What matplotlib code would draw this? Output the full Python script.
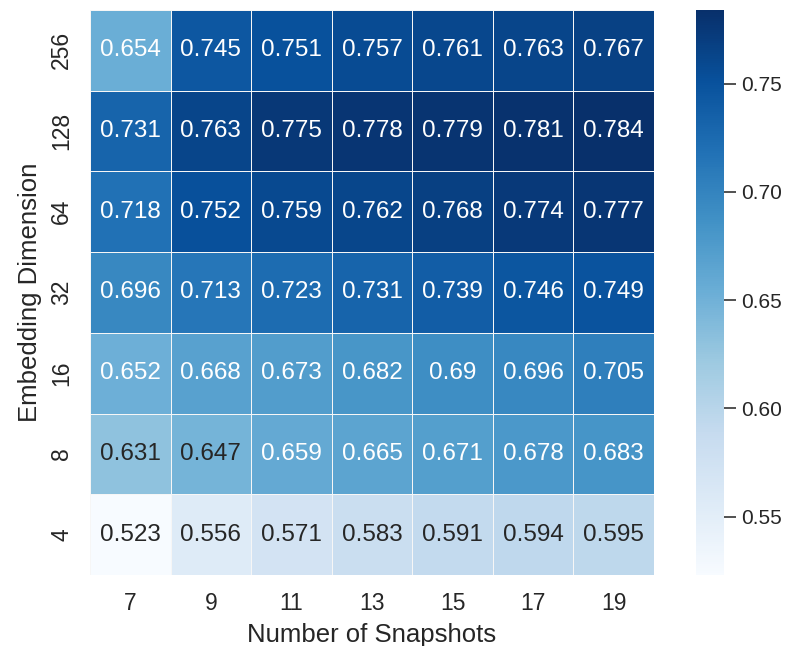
import numpy as np
import pandas as pd
import seaborn as sns
import matplotlib
matplotlib.use('Agg')
import matplotlib.pyplot as plt

# 数据
snapshots = [7, 9, 11, 13, 15, 17, 19]
dims = [256, 128, 64, 32, 16, 8, 4]
scores = [
    [0.654, 0.745, 0.751, 0.757, 0.761, 0.763, 0.767],
    [0.731, 0.763, 0.775, 0.778, 0.779, 0.781, 0.784],
    [0.718, 0.752, 0.759, 0.762, 0.768, 0.774, 0.777],
    [0.696, 0.713, 0.723, 0.731, 0.739, 0.746, 0.749],
    [0.652, 0.668, 0.673, 0.682, 0.690, 0.696, 0.705],
    [0.631, 0.647, 0.659, 0.665, 0.671, 0.678, 0.683],
    [0.523, 0.556, 0.571, 0.583, 0.591, 0.594, 0.595],
]
cbar_ticks = [0.55, 0.60, 0.65, 0.70, 0.75]
df = pd.DataFrame(scores, index=dims, columns=snapshots)

sns.set_theme(style='white')
plt.rcParams['font.family'] = ['Liberation Sans', 'DejaVu Sans']

fig = plt.figure(figsize=(7.87, 6.46), dpi=100)
ax = fig.add_axes([90 / 787, 1 - 575 / 646, 564 / 787, 565 / 646])
cax = fig.add_axes([696 / 787, 1 - 575 / 646, 28 / 787, 565 / 646])

sns.heatmap(df, ax=ax, cbar_ax=cax, cmap='Blues', annot=True, fmt='g',
            annot_kws={'fontsize': 17.5}, linewidths=0.7, linecolor='#f6f6f6')

ax.set_xlabel('Number of Snapshots', fontsize=18.5, labelpad=6)
ax.set_ylabel('Embedding Dimension', fontsize=18.5, labelpad=6)
ax.tick_params(axis='both', length=0, labelsize=16.5, pad=12)
ax.set_yticklabels(dims, rotation=90, va='center')
cax.tick_params(length=8.5, width=1.1, color='#222222', labelsize=15, pad=4)
cax.yaxis.set_ticks(cbar_ticks)
cax.set_yticklabels(['%.2f' % t for t in cbar_ticks])
for s in cax.spines.values():
    s.set_visible(False)

fig.savefig('out.png', dpi=100)
